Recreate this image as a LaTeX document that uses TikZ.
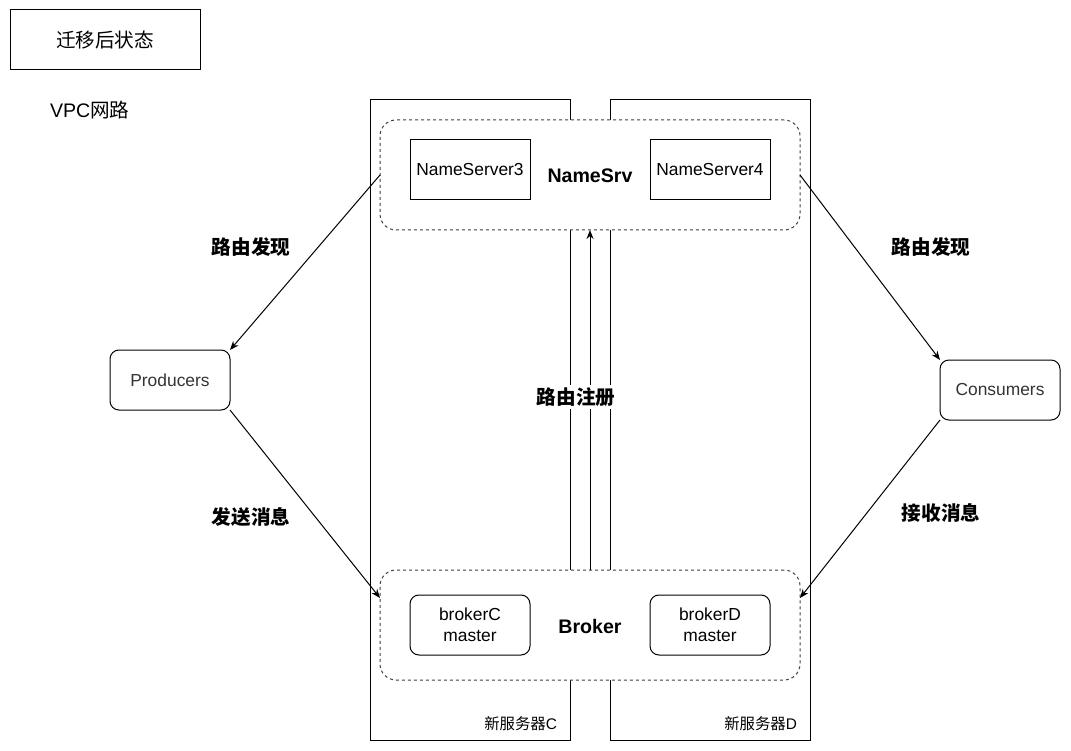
\documentclass[tikz,border=0pt]{standalone}
\usepackage{fontspec}
\setmainfont{Liberation Sans}
\newfontfamily\cjk{Noto Sans CJK SC}
\usetikzlibrary{arrows.meta,calc}
\newcommand\fsz[1]{\fontsize{#1}{21}\selectfont}
\begin{document}
\begin{tikzpicture}[x=1pt,y=-1pt,
  every node/.style={inner sep=0pt, outer sep=0pt},
  plain/.style={draw, line width=1pt, minimum width=120pt, minimum height=60pt, align=center, font=\fsz{17.4}},
  rbox/.style={plain, rounded corners=9pt},
  grp/.style={draw=black!75, fill=white, line width=1pt, dash pattern=on 3pt off 3pt, rounded corners=16pt, minimum width=420pt, minimum height=110pt},
  server/.style={draw, line width=1pt, minimum width=200pt, minimum height=640pt},
  lbl/.style={font=\cjk\bfseries\fsz{19.6}},
  conn/.style={line width=1pt, -{Stealth[length=9pt,width=7pt]}}
]
\useasboundingbox (0,0) rectangle (1071,751);
% title
\node[plain, minimum width=190pt, font=\cjk\fsz{19.6}] (title) at (105,40) {迁移后状态};
\node[anchor=west, font=\fsz{19.6}] (vpc) at (50,110) {VPC{\cjk 网路}};
% servers
\node[server] (srvC) at (470,420) {};
\node[server] (srvD) at (710,420) {};
\node[anchor=south east, font=\cjk\fsz{15.4}] (lblC) at ($(srvC.south east)+(-13,-9)$) {新服务器{\rmfamily C}};
\node[anchor=south east, font=\cjk\fsz{15.4}] (lblD) at ($(srvD.south east)+(-13,-9)$) {新服务器{\rmfamily D}};
% groups
\node[grp] (ns) at (590,175) {};
\node[grp] (br) at (590,625) {};
\node[plain] (ns3) at (470,170) {NameServer3};
\node[plain] (ns4) at (710,170) {NameServer4};
\node[font=\bfseries\fsz{19.6}] (nstxt) at (590,176) {NameSrv};
\node[rbox] (bc) at (470,625) {brokerC\\master};
\node[rbox] (bd) at (710,625) {brokerD\\master};
\node[font=\bfseries\fsz{19.6}] (brtxt) at (590,626) {Broker};
% clients
\node[rbox, text=black!80] (prod) at (170,380) {Producers};
\node[rbox, text=black!80] (cons) at (1000,390) {Consumers};
% connectors
\draw[conn] (ns.west) -- (prod.north east);
\draw[conn] (prod.south east) -- ($(br.west)+(0,-27)$);
\draw[conn] (ns.east) -- (cons.north west);
\draw[conn] (cons.south west) -- ($(br.east)+(0,-27)$);
\draw[conn] (br.north) -- (ns.south);
% labels
\node[lbl] (l1) at (251,247) {路由发现};
\node[lbl] (l2) at (251,517) {发送消息};
\node[lbl] (l3) at (931,247) {路由发现};
\node[lbl] (l4) at (941,513) {接收消息};
\node[lbl, fill=white, inner ysep=3pt, inner xsep=1pt] (l5) at (576,397) {路由注册};
\end{tikzpicture}
\end{document}
